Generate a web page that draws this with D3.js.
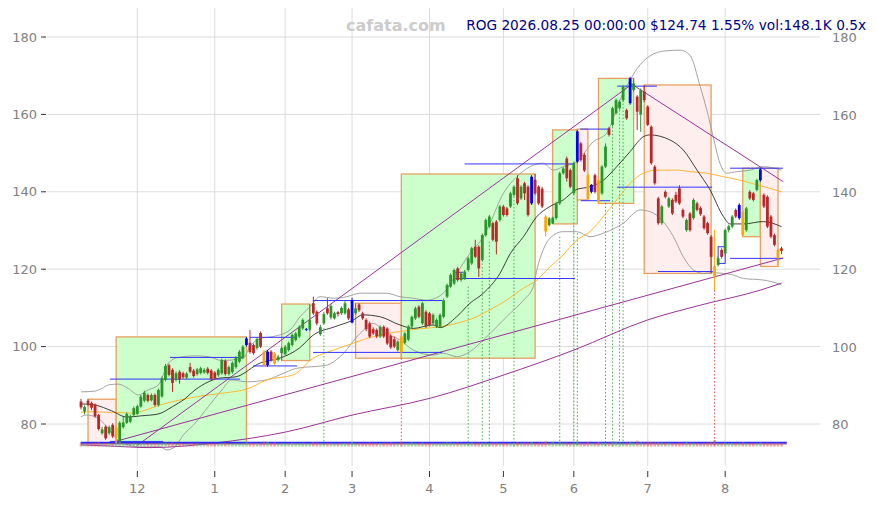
<!DOCTYPE html>
<html><head><meta charset="utf-8">
<script src="https://cdn.jsdelivr.net/npm/d3@7"></script>
<style>body{margin:0;background:#fff}svg{display:block}</style>
</head><body><svg id="c" width="876" height="505"></svg>
<script>
// ---------- DATA ----------
const firstDay = "2025-11-06", lastDay = "2026-08-25";
const holidays = ["2025-11-27","2025-12-25","2026-01-01","2026-01-19","2026-02-16","2026-04-03","2026-05-25","2026-06-19","2026-07-03"];
const monthTickLabels = ["12","1","2","3","4","5","6","7","8"];
const yTicks = [80,100,120,140,160,180];
const titleText = "ROG 2026.08.25 00:00:00 $124.74 1.55% vol:148.1K 0.5x";
const watermark = "cafata.com";

// [open, high, low, close]
const ohlc = [
[85.8,86.5,83.8,84.3],[83.2,84.8,82.5,84.4],[86.0,86.4,84.6,85.0],[85.4,85.8,83.6,84.2],[85.0,85.3,81.6,82.0],
[82.3,82.6,78.3,78.7],[77.6,79.2,77.2,78.6],[79.3,79.7,75.9,76.3],[77.6,79.6,77.2,79.2],[79.8,80.2,76.4,76.8],
[76.5,79.4,75.0,79.0],[75.6,80.7,75.2,80.3],[79.2,81.8,78.8,80.4],[80.3,83.0,80.0,82.6],[80.6,82.4,80.2,82.0],
[82.3,84.5,82.0,84.1],[82.6,85.0,82.3,84.6],[84.5,87.5,84.2,87.1],[86.0,88.6,85.6,88.1],[87.5,87.9,85.6,86.0],
[86.1,87.9,85.8,87.5],[87.5,87.9,84.5,84.9],[84.9,89.2,84.5,88.8],[87.1,92.3,86.8,91.8],[91.4,95.5,91.0,95.0],
[95.2,95.6,92.3,92.7],[94.0,94.4,88.3,90.6],[91.4,93.6,91.0,93.1],[93.5,93.9,90.4,91.5],[93.1,93.5,91.7,92.1],
[92.0,93.4,91.6,93.0],[94.7,95.8,93.1,93.5],[93.8,94.2,92.0,92.4],[92.9,94.5,92.5,94.1],[93.2,94.8,92.8,94.4],
[93.3,94.4,93.0,94.0],[94.3,94.7,92.8,93.2],[93.8,94.2,91.2,91.6],[93.3,93.7,91.4,91.8],[92.6,94.4,92.2,94.0],
[93.1,96.9,92.7,96.5],[96.3,96.7,92.5,92.9],[92.9,95.1,92.5,94.7],[93.4,96.2,93.0,95.8],[94.7,97.5,94.3,97.1],
[96.1,99.1,95.7,98.7],[97.2,100.4,96.8,100.0],[100.4,102.5,100.0,102.1],[101.0,104.3,98.2,98.6],[100.4,100.8,97.9,98.3],
[99.6,102.4,99.2,102.0],[103.5,103.9,99.6,100.0],[98.7,99.1,94.8,95.2],[95.2,99.1,94.8,98.7],[98.7,99.1,96.1,96.5],
[98.2,98.6,95.2,95.6],[96.5,97.8,96.1,97.4],[98.3,100.0,96.4,99.6],[98.0,100.4,97.6,100.0],[99.1,101.3,98.7,100.9],
[100.4,103.4,100.0,103.0],[101.7,103.8,101.3,103.4],[102.6,105.5,102.2,105.1],[104.7,107.3,104.3,106.9],[104.4,104.8,104.0,104.5],
[104.4,111.0,104.0,106.9],[111.2,112.9,108.2,108.6],[109.0,109.4,105.5,106.0],[103.2,105.6,102.8,105.0],[106.0,109.0,105.6,108.4],
[109.9,112.5,108.2,108.6],[107.5,111.0,107.0,110.5],[107.3,109.0,107.0,108.6],[108.9,109.2,107.8,108.4],[108.6,110.4,108.2,110.0],
[108.6,111.8,108.2,111.2],[109.6,110.0,106.9,107.3],[106.2,112.6,106.0,112.0],[108.6,111.2,108.2,109.9],[110.9,111.2,108.9,109.4],
[108.6,109.0,106.9,107.3],[106.9,107.3,104.0,104.5],[106.0,106.5,102.2,102.6],[104.5,105.0,103.0,103.4],[104.3,104.7,102.2,102.6],
[102.6,105.5,102.2,105.1],[105.1,105.5,102.2,102.6],[104.7,105.0,100.4,100.8],[102.8,103.2,99.4,99.8],[101.9,102.6,99.6,100.0],
[99.1,101.6,98.7,101.3],[102.6,103.0,97.0,98.5],[101.0,103.8,100.6,103.4],[101.8,105.6,101.4,105.2],[105.2,108.0,104.8,107.7],
[107.3,110.3,106.9,109.9],[110.3,110.7,107.3,107.7],[106.0,111.6,105.6,111.2],[109.0,109.4,104.8,105.2],[108.6,109.0,105.2,105.6],
[106.0,108.6,105.6,108.2],[105.2,107.3,104.8,106.9],[105.2,108.6,104.8,108.2],[107.7,112.4,107.3,112.0],[112.9,116.3,112.5,115.9],
[115.5,118.9,115.1,118.5],[116.3,120.2,115.9,119.8],[120.2,120.6,116.8,117.2],[117.2,119.3,116.8,118.9],[117.6,119.8,117.2,119.4],
[119.8,123.2,119.4,122.8],[121.5,125.8,121.1,125.4],[125.8,127.6,122.8,123.2],[125.8,126.2,118.0,120.2],[122.4,129.2,122.0,128.8],
[128.8,133.1,128.4,132.7],[131.0,134.0,130.6,133.6],[131.9,132.3,127.2,127.6],[132.3,132.7,123.8,127.1],[132.7,136.6,132.3,136.2],
[136.2,136.6,133.6,134.0],[135.7,136.1,133.6,134.0],[136.2,140.0,135.8,139.6],[139.2,141.7,138.8,141.3],[143.5,144.3,136.6,137.0],
[138.3,141.7,137.9,141.3],[142.2,142.6,137.9,139.6],[141.3,141.7,133.6,134.0],[137.0,144.3,136.6,143.9],[143.1,144.6,139.2,139.6],
[141.3,141.7,136.6,137.0],[140.8,141.3,135.8,136.2],[133.6,134.0,128.4,129.7],[131.4,133.5,131.0,133.1],[131.8,133.6,131.7,133.3],
[133.2,137.4,132.8,137.0],[137.0,145.2,136.6,144.8],[144.8,146.4,144.4,146.0],[148.6,149.1,142.6,143.5],[145.6,146.0,140.9,141.3],
[139.6,147.8,139.2,147.4],[147.8,156.0,147.4,155.6],[152.5,152.9,147.8,148.2],[149.5,150.0,145.1,145.5],[144.3,144.7,137.9,138.2],
[140.0,142.0,139.6,141.8],[144.3,144.7,139.6,140.0],[143.0,143.4,137.0,137.4],[139.6,146.9,139.2,146.5],[146.5,152.5,146.1,151.7],
[156.4,156.8,154.3,154.7],[157.3,162.0,156.9,161.6],[160.3,164.1,159.9,163.7],[161.6,163.7,161.2,163.3],[163.7,167.6,163.3,167.2],
[161.1,161.5,158.6,159.0],[162.9,169.7,162.5,169.3],[166.3,169.3,165.9,168.0],[164.6,165.0,156.0,160.7],[160.0,166.7,155.5,166.3],
[165.9,167.6,163.2,163.7],[162.0,162.4,157.0,157.3],[156.8,157.2,147.0,147.4],[146.5,146.9,141.8,142.2],[138.3,138.7,131.5,131.9],
[131.9,136.6,131.5,136.2],[140.0,140.4,138.3,138.7],[136.2,138.7,135.8,138.3],[137.9,138.3,134.0,134.4],[139.2,140.0,137.1,137.5],
[140.9,141.7,136.6,137.0],[135.3,135.7,133.2,133.6],[130.1,133.1,129.7,132.7],[134.4,134.8,129.7,130.1],[133.2,138.3,132.8,137.9],
[137.0,137.4,134.9,135.3],[135.8,136.2,133.8,134.2],[133.6,134.0,130.2,130.6],[131.9,132.3,128.9,129.3],[128.4,128.8,118.9,123.2],
[120.8,130.1,114.6,118.1],[121.1,123.2,120.7,122.8],[125.0,125.4,122.8,123.2],[124.1,130.5,123.7,130.1],[130.1,131.5,129.5,131.1],
[131.0,134.0,130.6,133.6],[135.3,135.7,133.2,133.6],[133.2,137.0,132.8,136.6],[134.9,135.3,128.4,128.8],[130.1,136.1,129.7,135.7],
[140.0,140.4,137.9,138.3],[139.6,140.0,137.5,137.9],[140.5,143.4,140.1,143.0],[143.0,146.1,142.6,145.8],[139.2,139.6,135.8,136.2],
[138.7,139.1,130.6,131.0],[133.6,134.0,128.0,128.4],[128.8,129.2,125.9,126.3],[125.0,125.4,120.7,122.84],[125.4,125.8,123.9,124.74]
];
const blueCandles = [47,53,64,77,128,141,145,156,187,193];
const orangeCandles = [10,52,55,91,132,144,147,180,188,198];

// volume in K
const volume = [
160,140,150,170,190,210,150,180,160,170,260,230,170,150,140,160,150,170,160,140,
150,170,160,180,200,170,190,150,160,140,130,150,140,150,140,130,150,160,150,140,
170,180,150,160,160,170,180,220,190,170,160,180,250,230,170,200,140,160,170,150,
180,160,170,180,150,160,210,190,170,160,180,160,150,150,160,170,170,230,160,180,
160,170,190,170,160,170,180,190,200,180,170,260,180,170,210,180,170,190,170,160,
160,150,170,190,210,200,180,190,160,160,190,200,180,200,190,200,180,190,200,170,
170,160,180,190,210,180,190,200,230,180,190,200,260,180,250,170,220,190,200,180,
200,260,190,180,240,170,180,230,190,200,190,270,250,200,190,200,240,190,290,210,
200,220,240,210,220,200,180,190,180,170,190,180,250,190,180,170,160,180,190,220,
320,180,170,190,160,170,160,170,210,180,170,160,170,200,180,190,180,170,190,148.1
];

// indicator lines: [candle index, value]
const ma20 = [[0,85.2],[4,84.9],[8.7,83.4],[13,81.8],[17,82.1],[22,82.6],[26,84.5],[29.5,86.5],[32.4,88.8],[36.2,90.9],[39,91.8],[44,92.2],[51,95.8],[56.5,97.0],[62,99.6],[66,103.0],[72,105.1],[77.4,106.9],[80,108.2],[85,107.7],[90.6,105.6],[94.4,104.7],[100,105.6],[102,104.9],[106.7,107.7],[110.5,111.2],[114.3,113.8],[119,118.9],[122,124.1],[125.7,128.4],[129.5,133.6],[133.2,136.2],[137,137.9],[140.8,140.6],[144.6,141.3],[148.4,143.0],[152.2,146.5],[156,150.4],[159.7,154.2],[161.6,154.7],[167.3,153.4],[171.1,150.8],[175,145.6],[178.7,140.5],[182.5,133.6],[184.4,131.7],[188.2,131.7],[193.8,132.3],[199,131.0]];
const bbUpper = [[0,88.3],[4,88.5],[5.9,89.2],[7.8,90.1],[10.6,90.3],[13.4,89.2],[16.3,87.5],[19.1,88.8],[22,90.1],[24.8,95.7],[27.6,97.2],[32.4,97.6],[36.2,97.4],[40,96.4],[46.1,97.0],[48,100.0],[50.9,102.1],[54.6,102.6],[59.4,104.3],[62.2,107.7],[65.1,110.3],[67.9,112.9],[71.7,112.5],[75.5,112.9],[79.3,113.8],[86.8,113.8],[90.6,112.9],[94.4,112.5],[98.2,112.0],[102.9,113.8],[106.7,118.9],[110.5,124.1],[114.3,128.4],[116.2,131.9],[120,139.6],[123.8,143.9],[127.6,146.5],[131.3,147.4],[134.2,145.6],[137,146.5],[140.8,147.8],[145.5,152.9],[149.4,155.2],[153.1,163.7],[156,168.9],[158.8,172.8],[161.6,175.1],[165.9,176.4],[170.2,176.6],[173,175.3],[175.9,167.2],[177.8,161.1],[179.6,154.2],[181.5,147.4],[183.4,144.8],[186.3,145.2],[190.1,145.6],[193.8,146.5],[199,145.6]];
const bbLower = [[0,81.9],[1.6,82.3],[4.5,81.7],[7.3,79.3],[9.2,77.2],[11.1,75.4],[16.8,74.1],[22.4,74.1],[24.4,73.3],[26.7,74.1],[29.1,77.2],[31.9,79.7],[36.2,84.5],[40,88.8],[42.8,91.4],[47.1,90.9],[52.8,91.4],[56.5,92.7],[61.3,94.4],[69.8,95.2],[73.6,97.4],[79.3,103.4],[83,106.0],[86.8,103.4],[90.6,101.7],[94.4,99.1],[100.1,97.8],[102.9,98.3],[106.7,97.4],[110.5,98.7],[114.3,101.7],[118.1,105.1],[121.9,108.6],[125.7,112.0],[128.5,115.5],[129.5,119.8],[131.3,125.0],[133.2,128.0],[137,129.7],[140.8,129.7],[144.6,128.4],[148.4,129.3],[154.1,131.9],[158.8,135.3],[161.6,134.9],[165.4,132.3],[168.3,128.4],[171.1,123.2],[174,119.8],[176.8,118.9],[179.6,119.1],[182.5,118.9],[185.3,118.5],[188.2,117.6],[193.8,117.2],[197.6,116.4],[199,115.9]];
const ma50 = [[0,83.0],[3.5,83.2],[7.3,83.0],[10.1,83.0],[13.9,82.8],[16.8,83.2],[22.4,84.9],[28.1,86.2],[34.7,87.3],[41.4,88.1],[47.1,89.0],[52.8,91.4],[60.3,92.7],[66,97.0],[71.7,99.1],[77.4,100.9],[81.2,102.1],[84.9,103.0],[90.6,103.9],[97.2,104.7],[102,105.1],[106.7,106.0],[112.4,107.7],[116.2,109.5],[120.9,112.0],[125.7,115.1],[129.5,117.2],[133.2,120.6],[137,123.7],[140.8,127.5],[144.6,129.7],[148.4,133.6],[152.2,137.9],[156,142.2],[159.7,144.8],[163.5,145.6],[169.2,145.6],[173,145.2],[177.8,144.8],[182.5,143.9],[187.2,143.0],[192,141.8],[195.7,140.9],[199,140.0]];
const ma200 = [[0,74.6],[8.2,74.3],[19.6,73.9],[38,75.1],[58,77.9],[77,82.3],[99.4,86.7],[120.2,92.7],[140,99.1],[161,106.9],[175.9,110.7],[193,114.6],[199,116.4]];

// trend lines [i1, v1, i2, v2]
const trendLines = [[16,74.5,156.5,167.8],[156.5,167.8,199.5,142.6],[10.2,75.6,199.5,122.9]];
// boxes [startIdx, endIdx, low, high, kind]
const boxes = [[2,10,75.0,86.4,"down"],[10,47,75.0,102.5,"up"],[57,65,96.4,111.0,"up"],[78,91,97.0,111.2,"down"],
[91,129,97.0,144.6,"up"],[134,141,131.7,156.0,"up"],[141,144,137.9,156.2,"down"],[147,157,137.0,169.3,"up"],
[160,179,118.9,167.6,"down"],[188,193,128.4,146.1,"up"],[193,198,120.7,146.1,"down"]];
const outlineBoxes = [[181,183,121.5,125.8]];
// horizontal levels [startIdx, endIdx, value]
const levels = [[8.2,45.2,91.6],[25.3,46,97.2],[48,61.4,102.4],[48.9,61.4,95.0],[65.9,102.6,111.9],[65.9,102.6,98.5],
[109,140.3,147.2],[106.3,140.3,117.6],[106.3,108.5,119.2],[141.8,150,156.2],[142,150.3,137.7],[152.3,163.6,167.3],
[152.3,179.3,141.2],[163.9,179.5,119.4],[184.4,199.4,146.1],[184.4,199.4,122.8],[8.2,23.3,75.5]];
const baseLevel = [-0.1,200.5,75.15];
// signal dotted lines [idx, fromValue, kind]
const signals = [[69,104.8,"buy"],[91,97.0,"sell"],[110,115.5,"buy"],[114,122.4,"buy"],[116,127.1,"buy"],[123,139.7,"buy"],
[136,128.4,"buy"],[140,143.9,"buy"],[141,129.3,"buy"],[149,137.1,"buy"],[151,156.8,"buy"],[153,162.9,"buy"],[154,163.7,"buy"],[180,114.6,"sell"]];

// ---------- BUILD ----------
const fmt = d3.timeFormat("%Y-%m-%d");
const days = d3.timeDay.range(new Date(firstDay+"T00:00"), d3.timeDay.offset(new Date(lastDay+"T00:00"),1))
  .filter(d => d.getDay()!==0 && d.getDay()!==6 && !holidays.includes(fmt(d)));
const data = ohlc.map((r,i)=>({i, date:days[i], o:r[0], h:r[1], l:r[2], c:r[3], v:volume[i]}));

const svg = d3.select("#c");
const x = d3.scaleLinear().domain([0,199]).range([81,781.5]);
const y = d3.scaleLinear().domain([80,180]).range([424,37]);
const vScale = d3.scaleLinear().domain([0,400]).range([0,8]);
const FONT = "DejaVu Sans, sans-serif";

const monthStarts = [];
data.forEach((d,i)=>{ if(i>0 && d.date.getMonth()!==data[i-1].date.getMonth()) monthStarts.push(i); });

// grid
const g = svg.append("g");
g.selectAll(".hg").data(yTicks).join("line")
  .attr("x1",47).attr("x2",820).attr("y1",d=>y(d)).attr("y2",d=>y(d))
  .attr("stroke","#dcdcdc").attr("stroke-width",1);
g.selectAll(".vg").data(monthStarts).join("line")
  .attr("x1",d=>x(d)).attr("x2",d=>x(d)).attr("y1",8).attr("y2",466)
  .attr("stroke","#dcdcdc").attr("stroke-width",1);

// boxes
svg.append("g").selectAll("rect").data(boxes).join("rect")
  .attr("x",d=>x(d[0])).attr("width",d=>x(d[1])-x(d[0]))
  .attr("y",d=>y(d[3])).attr("height",d=>y(d[2])-y(d[3]))
  .attr("fill",d=>d[4]==="up"?"#ccffcc":"#ffeeee")
  .attr("stroke","#e6a060").attr("stroke-width",1.3);
svg.append("g").selectAll("rect").data(outlineBoxes).join("rect")
  .attr("x",d=>x(d[0])).attr("width",d=>x(d[1])-x(d[0]))
  .attr("y",d=>y(d[3])).attr("height",d=>y(d[2])-y(d[3]))
  .attr("fill","none").attr("stroke","#3333ff").attr("stroke-width",1);

// signals
const vBase = 446.5;
svg.append("g").selectAll("line").data(signals).join("line")
  .attr("x1",d=>x(d[0])).attr("x2",d=>x(d[0])).attr("y1",d=>y(d[1])).attr("y2",vBase)
  .attr("stroke",d=>d[2]==="buy"?"#3aa03a":"#d04040").attr("stroke-width",0.9).attr("stroke-dasharray","1.5,2");

// indicator lines
const line = d3.line().x(d=>x(d[0])).y(d=>y(d[1])).curve(d3.curveMonotoneX);
const ind = svg.append("g").attr("fill","none");
ind.append("path").attr("d",line(bbUpper)).attr("stroke","#999").attr("stroke-width",0.9);
ind.append("path").attr("d",line(bbLower)).attr("stroke","#999").attr("stroke-width",0.9);
ind.append("path").attr("d",line(ma50)).attr("stroke","#ffb020").attr("stroke-width",0.9);
ind.append("path").attr("d",line(ma200)).attr("stroke","#993399").attr("stroke-width",1);
ind.append("path").attr("d",line(ma20)).attr("stroke","#111").attr("stroke-width",0.8);

// trend lines
svg.append("g").selectAll("line").data(trendLines).join("line")
  .attr("x1",d=>x(d[0])).attr("y1",d=>y(d[1])).attr("x2",d=>x(d[2])).attr("y2",d=>y(d[3]))
  .attr("stroke","#993399").attr("stroke-width",1);

// levels
svg.append("g").selectAll("line").data(levels).join("line")
  .attr("x1",d=>x(d[0])).attr("x2",d=>x(d[1])).attr("y1",d=>y(d[2])).attr("y2",d=>y(d[2]))
  .attr("stroke","#3333ff").attr("stroke-width",1);
svg.append("line").attr("x1",x(baseLevel[0])).attr("x2",x(baseLevel[1]))
  .attr("y1",y(baseLevel[2])).attr("y2",y(baseLevel[2])).attr("stroke","#2a2aff").attr("stroke-width",2);
svg.append("line").attr("x1",x(baseLevel[0])).attr("x2",x(baseLevel[1]))
  .attr("y1",y(baseLevel[2])+1.3).attr("y2",y(baseLevel[2])+1.3).attr("stroke","#993399").attr("stroke-width",0.7);

// volume (below the base line)
svg.append("g").selectAll("rect").data(data).join("rect")
  .attr("x",d=>x(d.i)-1.3).attr("width",2.6)
  .attr("y",d=>vBase-vScale(d.v)).attr("height",d=>vScale(d.v))
  .attr("fill",d=>d.c>=d.o?"#5fae5f":"#d06060").attr("opacity",0.55);

// candles
const col = d => blueCandles.includes(d.i)?"#0000ff":orangeCandles.includes(d.i)?"#ffa500":(d.c>=d.o?"#2a962a":"#b82828");
const cg = svg.append("g");
cg.selectAll("line").data(data).join("line")
  .attr("x1",d=>x(d.i)).attr("x2",d=>x(d.i)).attr("y1",d=>y(d.h)).attr("y2",d=>y(d.l))
  .attr("stroke",col).attr("stroke-width",1);
cg.selectAll("rect").data(data).join("rect")
  .attr("x",d=>x(d.i)-1.4).attr("width",2.8)
  .attr("y",d=>y(Math.max(d.o,d.c))).attr("height",d=>Math.max(0.8,Math.abs(y(d.o)-y(d.c))))
  .attr("fill",col);

// axes labels
const ax = svg.append("g").attr("font-family",FONT).attr("font-size",13).attr("fill","#808080");
ax.selectAll(".yl").data(yTicks).join("text").attr("x",37).attr("y",d=>y(d)).attr("dy","0.35em")
  .attr("text-anchor","end").text(d=>d);
ax.selectAll(".yr").data(yTicks).join("text").attr("x",832).attr("y",d=>y(d)).attr("dy","0.4em")
  .attr("text-anchor","start").text(d=>d);
svg.append("g").selectAll("line").data(yTicks).join("line")
  .attr("x1",41).attr("x2",46).attr("y1",d=>y(d)).attr("y2",d=>y(d)).attr("stroke","#333");
svg.append("g").selectAll("line").data(monthStarts).join("line")
  .attr("x1",d=>x(d)).attr("x2",d=>x(d)).attr("y1",471).attr("y2",477).attr("stroke","#333");
ax.selectAll(".xl").data(monthStarts).join("text").attr("x",d=>x(d)).attr("y",493)
  .attr("text-anchor","middle").text((d,i)=>monthTickLabels[i]);

// title & watermark
svg.append("text").attr("x",346).attr("y",31).attr("font-family",FONT).attr("font-weight","bold")
  .attr("font-size",16).attr("fill","#cccccc").text(watermark);
svg.append("text").attr("x",866).attr("y",30).attr("font-family",FONT).attr("font-size",13.7)
  .attr("text-anchor","end").attr("fill","#00008b").text(titleText);
</script></body></html>
